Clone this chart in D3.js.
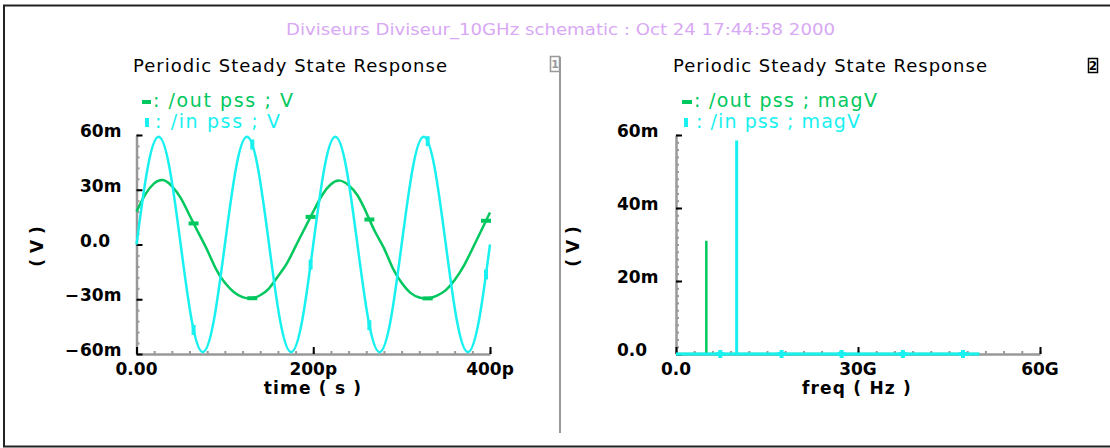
<!DOCTYPE html>
<html><head><meta charset="utf-8">
<script src="https://cdn.jsdelivr.net/npm/d3@7"></script>
<style>
html,body{margin:0;padding:0;background:#fff;overflow:hidden}
svg{display:block}
text{font-family:"DejaVu Sans",sans-serif}
</style>
</head><body>
<svg id="c" width="1110" height="448"></svg>
<script>
// ---------- data ----------
const headerText = "Diviseurs Diviseur_10GHz schematic : Oct 24 17:44:58 2000";
const plotTitle = "Periodic Steady State Response";
const timeLegend = [": /out pss ; V", ": /in pss ; V"];
const freqLegend = [": /out pss ; magV", ": /in pss ; magV"];
const timeAxisTitle = "time ( s )";
const freqAxisTitle = "freq ( Hz )";
const yAxisTitle = "( V )";

// time domain, ps -> mV
const outTime = [0,10,20,30,40,50,60,70,80,90,100,110,120,130,140,150,160,170,180,190,
                 200,210,220,230,240,250,260,270,280,290,300,310,320,330,340,350,360,370,380,390,400];
const outV    = [18,27.5,33.5,35.3,32,25.5,16,6.5,-3,-13.5,-21,-26,-28.8,-29.5,-27.8,-24,-17.5,-10.5,-1,8.5,
                 18,27,33,35,32.5,27,17.5,7,-2,-13,-21,-26.5,-29,-29.5,-28,-25,-19.5,-12,-2.5,7.5,17.5];
const inTime  = [0,12.5,25,37.5,50,62.5,75,87.5,100,112.5,125,137.5,150,162.5,175,187.5,
                 200,212.5,225,237.5,250,262.5,275,287.5,300,312.5,325,337.5,350,362.5,375,387.5,400];
const inV     = [0,41.7,59,41.7,0,-41.7,-59,-41.7,0,41.7,59,41.7,0,-41.7,-59,-41.7,
                 0,41.7,59,41.7,0,-41.7,-59,-41.7,0,41.7,59,41.7,0,-41.7,-59,-41.7,0];
const timeMarkers = [64.6,131,197,263.5,329.5,395.5];

// frequency domain, GHz -> mV
const outFreq = [0,5,10,15,20,25,30,35,40,45,50];
const outMag  = [0,31,0,0,0,0,0,0,0,0,0];
const inFreq  = [0,10,20,30,40,50];
const inMag   = [0,58.5,0,0,0,0];
const freqMarkers = [7.3,17.4,27.3,37.4,47.3];

// ticks
const timeTicks = [0,200,400];
const timeTickLabels = ["0.00","200p","400p"];
const voltTicks = [-60,-30,0,30,60];
const voltTickLabels = ["\u221260m","\u221230m","0.0","30m","60m"];
const freqTicks = [0,30,60];
const freqTickLabels = ["0.0","30G","60G"];
const magTicks = [0,20,40,60];
const magTickLabels = ["0.0","20m","40m","60m"];

// ---------- style ----------
const GREEN = "#00c85e", CYAN = "#19f0f0", GREY = "#999999", INK = "#000";

const svg = d3.select("#c");

// frame
svg.append("path").attr("d","M1110,5.5H4V446.5H1110").attr("fill","none").attr("stroke","#222").attr("stroke-width",2);

// header
svg.append("text").attr("x",286).attr("y",35).attr("font-size",16).attr("fill","#d8a8f4")
  .attr("textLength",549).attr("lengthAdjust","spacingAndGlyphs").text(headerText);

// separator + icons
svg.append("line").attr("x1",560).attr("x2",560).attr("y1",57).attr("y2",433).attr("stroke",GREY).attr("stroke-width",2);
svg.append("rect").attr("x",550.5).attr("y",56.5).attr("width",9).attr("height",15).attr("fill","none").attr("stroke",GREY).attr("stroke-width",1.5);
svg.append("text").attr("x",555).attr("y",68).attr("font-size",11).attr("font-weight","bold").attr("fill",GREY).attr("text-anchor","middle").text("1");
svg.append("rect").attr("x",1088.5).attr("y",58.5).attr("width",9).attr("height",14).attr("fill","none").attr("stroke",INK).attr("stroke-width",1.5);
svg.append("text").attr("x",1093).attr("y",70).attr("font-size",12).attr("font-weight","bold").attr("fill",INK).attr("text-anchor","middle").text("2");

// scales
const xT = d3.scaleLinear([0,400],[136.5,490]);
const yT = d3.scaleLinear([-60,60],[354,135]);
const xF = d3.scaleLinear([0,60],[676,1040]);
const yF = d3.scaleLinear([0,60],[354,135]);

function drawAxes(x, y, xMajor, xStep, yMajor, yStep, xLabels, yLabels, yLabelX, xTitle, xTitleCx, yTitleCx) {
  const g = svg.append("g");
  const y0 = y.range()[0], x0 = x.range()[0];
  const [xa,xb] = x.domain(), [ya,yb] = y.domain();
  const gxm = g.append("g").attr("transform",`translate(0,${y0})`)
    .call(d3.axisTop(x).tickValues(d3.range(xa, xb + 1e-6, xStep)).tickSize(3).tickSizeOuter(0).tickFormat(""));
  gxm.select(".domain").attr("stroke",GREY).attr("stroke-width",2.5);
  gxm.selectAll(".tick line").attr("stroke",GREY).attr("stroke-width",2);
  const gym = g.append("g").attr("transform",`translate(${x0},0)`)
    .call(d3.axisRight(y).tickValues(d3.range(ya, yb + 1e-6, yStep)).tickSize(3).tickSizeOuter(0).tickFormat(""));
  gym.select(".domain").attr("stroke",GREY).attr("stroke-width",2.5);
  gym.selectAll(".tick line").attr("stroke",GREY).attr("stroke-width",2);
  const gxM = g.append("g").attr("transform",`translate(0,${y0})`)
    .call(d3.axisTop(x).tickValues(xMajor).tickSize(7).tickSizeOuter(0).tickFormat(""));
  gxM.select(".domain").remove();
  gxM.selectAll(".tick line").attr("stroke",INK).attr("stroke-width",2);
  const gyM = g.append("g").attr("transform",`translate(${x0},0)`)
    .call(d3.axisRight(y).tickValues(yMajor).tickSize(6).tickSizeOuter(0).tickFormat(""));
  gyM.select(".domain").remove();
  gyM.selectAll(".tick line").attr("stroke",INK).attr("stroke-width",2);

  g.selectAll(null).data(xMajor).enter().append("text")
    .attr("x",d=>x(d)).attr("y",375).attr("text-anchor","middle")
    .attr("font-size",17).attr("font-weight","bold").attr("fill",INK)
    .text((d,i)=>xLabels[i]);
  yMajor.forEach((v,i)=>{
    const lab = yLabels[i];
    const neg = lab.startsWith("\u2212");
    const body = neg ? lab.slice(1) : lab;
    g.append("text").attr("x",yLabelX).attr("y",y(v)+2).attr("font-size",17).attr("font-weight","bold").attr("fill",INK).text(body);
    if (neg) g.append("text").attr("x",yLabelX-1).attr("y",y(v)+2).attr("text-anchor","end").attr("font-size",17).attr("font-weight","bold").attr("fill",INK).text("\u2212");
  });
  g.append("text").attr("x",xTitleCx).attr("y",394).attr("text-anchor","middle")
    .attr("font-size",17).attr("font-weight","bold").attr("letter-spacing",1.2).attr("fill",INK).text(xTitle);
  g.append("text").attr("transform",`translate(${yTitleCx},${(y.range()[0]+y.range()[1])/2+2}) rotate(-90)`)
    .attr("text-anchor","middle").attr("dy","0.35em")
    .attr("font-size",17).attr("font-weight","bold").attr("fill",INK).text(yAxisTitle);
}

// ---------- left plot ----------
svg.append("text").attr("x",133).attr("y",72).attr("font-size",18).attr("fill",INK)
  .attr("textLength",314).attr("lengthAdjust","spacing").text(plotTitle);
svg.append("rect").attr("x",142).attr("y",100).attr("width",9).attr("height",4).attr("fill",GREEN);
svg.append("text").attr("x",153).attr("y",107).attr("font-size",19).attr("fill",GREEN)
  .attr("textLength",140).attr("lengthAdjust","spacing").text(timeLegend[0]);
svg.append("rect").attr("x",145).attr("y",118).attr("width",4).attr("height",9).attr("fill",CYAN);
svg.append("text").attr("x",155).attr("y",128).attr("font-size",19).attr("fill",CYAN)
  .attr("textLength",125).attr("lengthAdjust","spacing").text(timeLegend[1]);

drawAxes(xT, yT, timeTicks, 20, voltTicks, 6, timeTickLabels, voltTickLabels, 80, timeAxisTitle, 313, 37);

const lineT = d3.line().curve(d3.curveNatural).x(d=>xT(d[0])).y(d=>yT(d[1]));
const outPath = svg.append("path").datum(outTime.map((t,i)=>[t,outV[i]]))
  .attr("d",lineT).attr("fill","none").attr("stroke",GREEN).attr("stroke-width",2.5);
const inPath = svg.append("path").datum(inTime.map((t,i)=>[t,inV[i]]))
  .attr("d",lineT).attr("fill","none").attr("stroke",CYAN).attr("stroke-width",2.5);

function yAtX(node, px) {
  let lo = 0, hi = node.getTotalLength();
  for (let k=0;k<40;k++){
    const mid=(lo+hi)/2;
    if (node.getPointAtLength(mid).x < px) lo = mid; else hi = mid;
  }
  return node.getPointAtLength((lo+hi)/2).y;
}
timeMarkers.forEach(t=>{
  const px = xT(t);
  svg.append("rect").attr("x",px-5).attr("y",yAtX(outPath.node(),px)-2).attr("width",10).attr("height",4).attr("fill",GREEN);
});
timeMarkers.forEach(t=>{
  const px = xT(t);
  svg.append("rect").attr("x",px-2).attr("y",yAtX(inPath.node(),px)-5).attr("width",4).attr("height",10).attr("fill",CYAN);
});

// ---------- right plot ----------
svg.append("text").attr("x",673).attr("y",72).attr("font-size",18).attr("fill",INK)
  .attr("textLength",314).attr("lengthAdjust","spacing").text(plotTitle);
svg.append("rect").attr("x",682).attr("y",100).attr("width",10).attr("height",4).attr("fill",GREEN);
svg.append("text").attr("x",694).attr("y",107).attr("font-size",19).attr("fill",GREEN)
  .attr("textLength",183).attr("lengthAdjust","spacing").text(freqLegend[0]);
svg.append("rect").attr("x",684).attr("y",118).attr("width",4).attr("height",9).attr("fill",CYAN);
svg.append("text").attr("x",696).attr("y",128).attr("font-size",19).attr("fill",CYAN)
  .attr("textLength",164).attr("lengthAdjust","spacing").text(freqLegend[1]);

drawAxes(xF, yF, freqTicks, 3, magTicks, 2, freqTickLabels, magTickLabels, 617, freqAxisTitle, 857, 573);

const lineF = d3.line().x(d=>xF(d[0])).y(d=>yF(d[1]));
function stems(fs, ms){ const p=[]; fs.forEach((f,i)=>{p.push([f,0],[f,ms[i]],[f,0]);}); return p; }
svg.append("path").datum(stems(outFreq,outMag)).attr("d",lineF).attr("fill","none")
  .attr("stroke",GREEN).attr("stroke-width",2.5);
svg.append("path").datum(stems(inFreq,inMag)).attr("d",lineF).attr("fill","none")
  .attr("stroke",CYAN).attr("stroke-width",3);
freqMarkers.forEach(f=>{
  svg.append("rect").attr("x",xF(f)-2).attr("y",yF(0)-4).attr("width",4).attr("height",8).attr("fill",CYAN);
  svg.append("rect").attr("x",xF(f)-4).attr("y",yF(0)-2).attr("width",8).attr("height",4).attr("fill",CYAN);
});
</script>
</body></html>
